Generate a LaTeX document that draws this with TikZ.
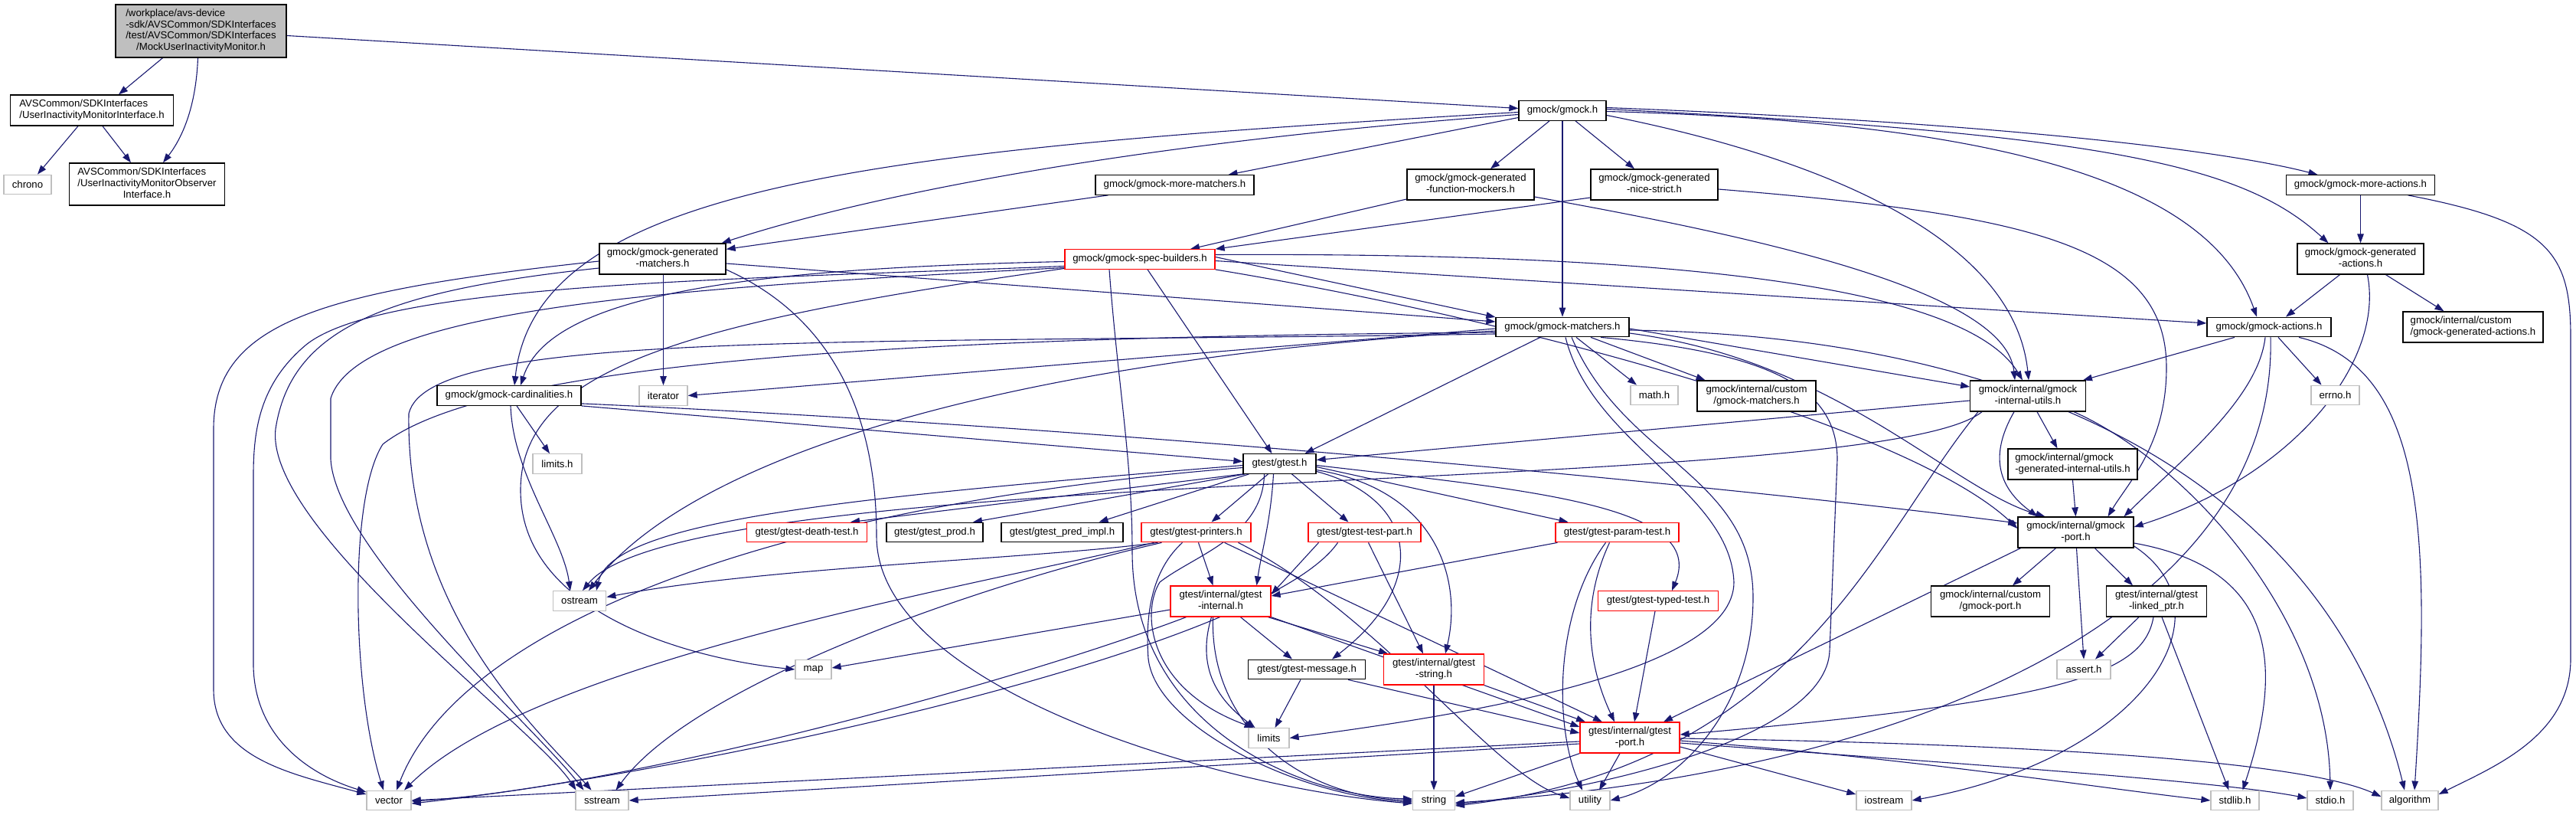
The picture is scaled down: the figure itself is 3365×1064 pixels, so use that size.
\documentclass[tikz,border=0pt]{standalone}
\usepackage{fontspec}
\setmainfont{Liberation Sans}
\usetikzlibrary{arrows.meta}
\definecolor{edgeblue}{HTML}{191970}
\definecolor{sysgray}{HTML}{BFBFBF}
\newcommand{\dxfont}{\fontsize{13.2}{14.7}\selectfont}
\newcommand{\ml}[1]{\begin{tabular}{@{}l@{}}#1\end{tabular}}
\newcommand{\lc}[1]{\multicolumn{1}{@{}c@{}}{#1}}
\pgfdeclarelayer{bg}
\pgfsetlayers{bg,main}

\tikzset{
  file/.style={draw=black, fill=white, line width=1.3pt, rectangle, inner sep=0pt, font=\dxfont, text=black},
  sysfile/.style={file, draw=sysgray},
  redfile/.style={file, draw=red},
  one/.style={minimum height=25.5pt},
  two/.style={minimum height=40pt},
  dep/.style={draw=edgeblue, line width=1.1pt, -{Triangle[length=12pt,width=8.5pt]}},
}

\begin{document}
\begin{tikzpicture}[x=1pt, y=-1pt]
    \useasboundingbox (0,0) rectangle (3365,1064);

    \node[file, fill=sysgray, minimum width=223pt, minimum height=69pt] (main) at (262.5,40.5) {\ml{/workplace/avs-device\\-sdk/AVSCommon/SDKInterfaces\\/test/AVSCommon/SDKInterfaces\\\lc{/MockUserInactivityMonitor.h}}};
    \node[file, two, minimum width=212.5pt] (ifc) at (120,144) {\ml{AVSCommon/SDKInterfaces\\\lc{/UserInactivityMonitorInterface.h}}};
    \node[sysfile, one, minimum width=62pt] (chrono) at (36,241) {chrono};
    \node[file, minimum height=55pt, minimum width=202.5pt] (obs) at (192,240.5) {\ml{AVSCommon/SDKInterfaces\\/UserInactivityMonitorObserver\\\lc{Interface.h}}};
    \node[file, one, minimum width=114pt] (gmock) at (2041,144.5) {gmock/gmock.h};
    \node[file, one, minimum width=207pt] (morematch) at (1534.5,241.5) {gmock/gmock-more-matchers.h};
    \node[file, two, minimum width=166pt] (fmock) at (1921,241) {\ml{gmock/gmock-generated\\\lc{-function-mockers.h}}};
    \node[file, two, minimum width=166pt] (nice) at (2161,241) {\ml{gmock/gmock-generated\\\lc{-nice-strict.h}}};
    \node[file, one, minimum width=194pt] (moreact) at (3083.5,241.5) {gmock/gmock-more-actions.h};
    \node[file, two, minimum width=165pt] (genmatch) at (865.5,338) {\ml{gmock/gmock-generated\\\lc{-matchers.h}}};
    \node[redfile, one, minimum width=196pt] (spec) at (1489,338.5) {gmock/gmock-spec-builders.h};
    \node[file, two, minimum width=165pt] (genact) at (3083.5,338) {\ml{gmock/gmock-generated\\\lc{-actions.h}}};
    \node[file, one, minimum width=174pt] (gmatch) at (2041,427) {gmock/gmock-matchers.h};
    \node[file, one, minimum width=162pt] (actions) at (2964,427) {gmock/gmock-actions.h};
    \node[file, two, minimum width=183pt] (cgenact) at (3230.5,427) {\ml{gmock/internal/custom\\\lc{/gmock-generated-actions.h}}};
    \node[file, one, minimum width=188pt] (card) at (665,516.5) {gmock/gmock-cardinalities.h};
    \node[sysfile, one, minimum width=63pt] (iterator) at (866.5,516.5) {iterator};
    \node[sysfile, one, minimum width=62pt] (math) at (2161,516) {math.h};
    \node[file, two, minimum width=155pt] (cmatch) at (2294.5,517) {\ml{gmock/internal/custom\\\lc{/gmock-matchers.h}}};
    \node[file, two, minimum width=150.5pt] (iutils) at (2649,517) {\ml{gmock/internal/gmock\\\lc{-internal-utils.h}}};
    \node[sysfile, one, minimum width=63pt] (errno) at (3050.5,516) {errno.h};
    \node[sysfile, one, minimum width=64pt] (limitsh) at (728,605.5) {limits.h};
    \node[file, one, minimum width=95pt] (gtest) at (1671.5,605.5) {gtest/gtest.h};
    \node[file, two, minimum width=169pt] (giutils) at (2707.5,606) {\ml{gmock/internal/gmock\\\lc{-generated-internal-utils.h}}};
    \node[redfile, one, minimum width=157.5pt] (death) at (1054,695) {gtest/gtest-death-test.h};
    \node[file, one, minimum width=126pt] (prod) at (1221,695) {gtest/gtest\_prod.h};
    \node[file, one, minimum width=159pt] (pred) at (1387.5,695) {gtest/gtest\_pred\_impl.h};
    \node[redfile, one, minimum width=143pt] (printers) at (1562.5,695) {gtest/gtest-printers.h};
    \node[redfile, one, minimum width=147pt] (testpart) at (1782.5,695) {gtest/gtest-test-part.h};
    \node[redfile, one, minimum width=161pt] (param) at (2112.5,695) {gtest/gtest-param-test.h};
    \node[file, two, minimum width=151pt] (gport) at (2711.5,695) {\ml{gmock/internal/gmock\\\lc{-port.h}}};
    \node[sysfile, one, minimum width=69.5pt] (ostream) at (757,784.5) {ostream};
    \node[redfile, two, minimum width=131pt] (internal) at (1594.5,785) {\ml{gtest/internal/gtest\\\lc{-internal.h}}};
    \node[redfile, one, minimum width=157.5pt] (typed) at (2166,784.5) {gtest/gtest-typed-test.h};
    \node[file, two, minimum width=154.5pt] (cport) at (2600,785) {\ml{gmock/internal/custom\\\lc{/gmock-port.h}}};
    \node[file, two, minimum width=130.5pt] (linked) at (2817,785) {\ml{gtest/internal/gtest\\\lc{-linked\_ptr.h}}};
    \node[sysfile, one, minimum width=47pt] (map) at (1062.5,874) {map};
    \node[file, one, minimum width=152.5pt] (message) at (1707,874) {gtest/gtest-message.h};
    \node[redfile, two, minimum width=130.5pt] (gstring) at (1873,874) {\ml{gtest/internal/gtest\\\lc{-string.h}}};
    \node[sysfile, one, minimum width=70pt] (assert) at (2722,874) {assert.h};
    \node[sysfile, one, minimum width=53pt] (limits) at (1657.5,963.5) {limits};
    \node[redfile, two, minimum width=130pt] (gtport) at (2129,963) {\ml{gtest/internal/gtest\\\lc{-port.h}}};
    \node[sysfile, one, minimum width=58pt] (vector) at (508,1045) {vector};
    \node[sysfile, one, minimum width=69pt] (sstream) at (786.5,1045) {sstream};
    \node[sysfile, one, minimum width=54.6pt] (string) at (1873,1045) {string};
    \node[sysfile, one, minimum width=52pt] (utility) at (2077,1045) {utility};
    \node[sysfile, one, minimum width=72pt] (iostream) at (2461,1045) {iostream};
    \node[sysfile, one, minimum width=63pt] (stdlib) at (2919.5,1045) {stdlib.h};
    \node[sysfile, one, minimum width=60pt] (stdio) at (3044,1045) {stdio.h};
    \node[sysfile, one, minimum width=74pt] (algorithm) at (3148,1045) {algorithm};

    \begin{pgfonlayer}{bg}
    % top of the graph
    \draw[dep] ([xshift=-50pt]main.south) -- ([xshift=35pt]ifc.north);
    \draw[dep] ([xshift=-4pt]main.south) .. controls (256,140) and (238,180) .. ([xshift=21pt]obs.north);
    \draw[dep] ([yshift=-6pt]main.east) -- ([yshift=3pt]gmock.west);
    \draw[dep] ([xshift=-18pt]ifc.south) -- ([xshift=13pt]chrono.north);
    \draw[dep] ([xshift=14pt]ifc.south) -- ([xshift=-21pt]obs.north);

    \draw[dep] ([yshift=-2pt]gmock.west) .. controls (1150,195) and (700,240) .. ([xshift=7pt]card.north);
    \draw[dep] ([yshift=-5pt]gmock.west) .. controls (1500,185) and (1150,250) .. ([xshift=-6pt]genmatch.north east);
    \draw[dep] ([yshift=-9pt]gmock.west) -- ([xshift=70pt]morematch.north);
    \draw[dep] ([xshift=-17pt]gmock.south) -- ([xshift=26pt]fmock.north);
    \draw[dep] ([xshift=17pt]gmock.south) -- ([xshift=-26pt]nice.north);
    \draw[dep] (gmock.south) -- (gmatch.north);
    \draw[dep] ([yshift=-6pt]gmock.east) .. controls (2350,200) and (2630,300) .. ([xshift=1pt]iutils.north);
    \draw[dep] ([yshift=4pt]gmock.east) .. controls (2600,160) and (2900,195) .. ([xshift=-56pt]moreact.north);
    \draw[dep] ([yshift=2pt]gmock.east) .. controls (2750,175) and (2930,215) .. ([xshift=-42pt]genact.north);
    \draw[dep] ([yshift=-1pt]gmock.east) .. controls (2650,160) and (2890,250) .. ([xshift=-16pt]actions.north);

    \draw[dep] ([xshift=-87pt]morematch.south) -- ([yshift=-8pt]genmatch.north east);
    \draw[dep] ([yshift=-19pt]fmock.west) -- ([xshift=66pt]spec.north);
    \draw[dep] ([yshift=-16pt]fmock.east) .. controls (2300,310) and (2620,380) .. ([xshift=-17pt]iutils.north);
    \draw[dep] ([yshift=-17pt]nice.west) -- (spec.north east);
    \draw[dep] ([yshift=-6pt]nice.east) .. controls (2650,280) and (2830,320) .. (2830,480) .. controls (2830,580) and (2780,630) .. ([xshift=42pt]gport.north);
    \draw[dep] (moreact.south) -- (genact.north);
    \draw[dep] ([xshift=62pt]moreact.south) .. controls (3330,290) and (3358,330) .. (3358,440) -- (3358,860) .. controls (3358,960) and (3260,1000) .. ([yshift=8pt]algorithm.east);

    \draw[dep] ([xshift=1pt]genmatch.south) -- (iterator.north);
    \draw[dep] ([yshift=-6pt]genmatch.east) -- ([yshift=7pt]gmatch.west);
    \draw[dep] ([yshift=-3pt]genmatch.west) .. controls (420,380) and (279,420) .. (279,560) -- (279,900) .. controls (279,990) and (380,1010) .. ([yshift=8pt]vector.west);
    \draw[dep] ([yshift=-12pt]genmatch.west) .. controls (500,380) and (380,430) .. (360,560) .. controls (345,690) and (700,950) .. ([xshift=-34pt]sstream.north);
    \draw[dep] ([yshift=-14pt]genmatch.east) .. controls (1100,420) and (1145,560) .. (1145,700) .. controls (1145,900) and (1600,1030) .. ([yshift=-4pt]string.west);

    % spec builders
    \draw[dep] ([yshift=-3pt]spec.west) .. controls (1000,350) and (720,380) .. ([xshift=15pt]card.north);
    \draw[dep] ([yshift=3pt]spec.east) -- ([yshift=13pt]gmatch.west);
    \draw[dep] ([yshift=-2pt]spec.east) -- ([yshift=5pt]actions.west);
    \draw[dep] ([yshift=6pt]spec.east) .. controls (2100,330) and (2560,360) .. ([xshift=-7pt]iutils.north);
    \draw[dep] (spec.south east) .. controls (2000,420) and (2500,560) .. ([yshift=5pt]gport.west);
    \draw[dep] ([xshift=10pt]spec.south) -- ([xshift=-10pt]gtest.north);
    \draw[dep] ([yshift=-12pt]spec.west) .. controls (900,420) and (680,480) .. (680,640) .. controls (680,800) and (900,860) .. (map.west);
    \draw[dep] ([yshift=-9pt]spec.west) .. controls (950,365) and (500,370) .. (400,450) .. controls (340,500) and (331,560) .. (331,620) -- (331,870) .. controls (333,960) and (400,1010) .. ([yshift=11pt]vector.west);
    \draw[dep] ([yshift=-11pt]spec.west) .. controls (900,375) and (470,400) .. (432,520) -- (432,600) .. controls (440,720) and (700,950) .. ([xshift=-24pt]sstream.north);
    \draw[dep] ([xshift=-40pt]spec.south) .. controls (1460,500) and (1479,600) .. (1479,720) .. controls (1479,950) and (1700,1040) .. ([yshift=2pt]string.west);

    \draw[dep] ([xshift=10pt]card.south) -- ([xshift=-10pt]limitsh.north);
    \draw[dep] ([xshift=2pt]card.south) .. controls (670,620) and (735,700) .. ([xshift=-12pt]ostream.north);
    \draw[dep] (card.south east) -- ([yshift=3pt]gtest.west);
    \draw[dep] ([yshift=3pt]card.south east) .. controls (1500,560) and (2300,640) .. ([yshift=12pt]gport.west);

    % gmock-matchers
    \draw[dep] ([xshift=18pt]gmatch.south) -- ([xshift=-23pt]math.north);
    \draw[dep] ([xshift=37pt]gmatch.south) -- ([xshift=-67pt]cmatch.north);
    \draw[dep] ([xshift=-29pt]gmatch.south) -- ([xshift=33pt]gtest.north);
    \draw[dep] ([yshift=-2pt]gmatch.west) -- (iterator.east);
    \draw[dep] ([yshift=-5pt]gmatch.west) .. controls (1300,470) and (900,600) .. ([xshift=12pt]ostream.north);
    \draw[dep] ([yshift=-7pt]gmatch.west) .. controls (1200,440) and (640,470) .. (500,580) .. controls (455,650) and (460,900) .. ([xshift=-7pt]vector.north);
    \draw[dep] ([yshift=-9pt]gmatch.west) .. controls (1100,450) and (560,430) .. (534,540) .. controls (530,800) and (700,950) .. ([xshift=-14pt]sstream.north);
    \draw[dep] ([xshift=50pt]gmatch.south) .. controls (2300,460) and (2400,500) .. (2400,600) -- (2390,850) .. controls (2385,960) and (2100,1030) .. ([yshift=-5pt]string.east);
    \draw[dep] ([xshift=12pt]gmatch.south) .. controls (2120,600) and (2290,620) .. (2290,780) .. controls (2290,920) and (2200,1020) .. (utility.east);
    \draw[dep] ([xshift=4pt]gmatch.south) .. controls (2080,580) and (2260,640) .. (2265,760) .. controls (2265,880) and (1900,935) .. (limits.east);
    \draw[dep] ([yshift=-4pt]gmatch.east) .. controls (2750,440) and (3060,700) .. ([xshift=-7pt]algorithm.north);
    \draw[dep] ([yshift=-8pt]gmatch.east) .. controls (2400,470) and (2550,640) .. ([xshift=-40pt]gport.north);
    \draw[dep] ([yshift=-2pt]gmatch.east) -- ([yshift=12pt]iutils.west);

    \draw[dep] ([xshift=-45pt]actions.south) -- ([xshift=72pt]iutils.north);
    \draw[dep] ([xshift=12pt]actions.south) -- ([xshift=-18pt]errno.north);
    \draw[dep] ([xshift=-5pt]actions.south) .. controls (2950,520) and (2850,600) .. ([xshift=63pt]gport.north);
    \draw[dep] ([xshift=2pt]actions.south) .. controls (2975,800) and (2500,1010) .. ([yshift=-3pt]string.east);
    \draw[dep] ([xshift=39pt]actions.south) .. controls (3170,480) and (3175,700) .. ([xshift=6pt]algorithm.north);
    \draw[dep] ([xshift=-27pt]genact.south) -- ([xshift=22pt]actions.north);
    \draw[dep] ([xshift=9pt]genact.south) .. controls (3115,470) and (3000,620) .. ([yshift=7pt]gport.east);
    \draw[dep] ([xshift=33pt]genact.south) -- ([xshift=-38pt]cgenact.north);

    \draw[dep] ([xshift=12pt]iutils.south) -- ([xshift=-20pt]giutils.north);
    \draw[dep] ([xshift=-18pt]iutils.south) .. controls (2595,600) and (2615,640) .. ([xshift=-50pt]gport.north);
    \draw[dep] ([yshift=-6pt]iutils.west) -- ([yshift=5pt]gtest.east);
    \draw[dep] ([xshift=-60pt]iutils.south) .. controls (2450,650) and (900,600) .. ([xshift=4pt]ostream.north);
    \draw[dep] ([xshift=-65pt]iutils.south) .. controls (2450,700) and (2350,1000) .. ([yshift=-7pt]string.east);
    \draw[dep] ([xshift=60pt]iutils.south) .. controls (2850,600) and (3040,800) .. (stdio.north);
    \draw[dep] (giutils.south) -- (gport.north);

    % gmock-port and linked_ptr
    \draw[dep] ([xshift=-26pt]gport.south) -- ([xshift=29pt]cport.north);
    \draw[dep] ([xshift=1pt]gport.south) -- (assert.north);
    \draw[dep] ([xshift=25pt]gport.south) -- ([xshift=-31pt]linked.north);
    \draw[dep] ([yshift=-14pt]gport.east) .. controls (2960,740) and (2990,850) .. ([xshift=10pt]stdlib.north);
    \draw[dep] ([yshift=-18pt]gport.east) .. controls (2920,800) and (2800,990) .. (iostream.east);
    \draw[dep] ([xshift=-72pt]gport.south) -- ([xshift=44pt]gtport.north);
    \draw[dep] ([xshift=-23pt]linked.south) -- ([xshift=15pt]assert.north);
    \draw[dep] ([xshift=7pt]linked.south) -- ([xshift=-8pt]stdlib.north);
    \draw[dep] ([xshift=-4pt]linked.south) .. controls (2800,880) and (2700,915) .. ([yshift=4pt]gtport.east);

    % gtest.h
    \draw[dep] (gtest.south west) -- ([xshift=57pt]death.north);
    \draw[dep] ([xshift=-45pt]gtest.south) -- ([xshift=50pt]prod.north);
    \draw[dep] ([xshift=-40pt]gtest.south) -- ([xshift=48pt]pred.north);
    \draw[dep] ([xshift=-15pt]gtest.south) -- ([xshift=20pt]printers.north);
    \draw[dep] ([xshift=16pt]gtest.south) -- ([xshift=-21pt]testpart.north);
    \draw[dep] ([yshift=-4pt]gtest.east) -- ([xshift=-64pt]param.north);
    \draw[dep] ([yshift=-2pt]gtest.east) .. controls (2000,640) and (2230,660) .. ([xshift=18pt]typed.north);
    \draw[dep] ([xshift=-8pt]gtest.south) .. controls (1660,680) and (1648,720) .. ([xshift=47pt]internal.north);
    \draw[dep] ([yshift=-8pt]gtest.east) .. controls (1880,640) and (1910,760) .. ([xshift=15pt]gstring.north);
    \draw[dep] ([yshift=-10pt]gtest.east) .. controls (1850,650) and (1870,760) .. ([xshift=33pt]message.north);
    \draw[dep] ([xshift=-20pt]gtest.south) .. controls (1650,700) and (1560,725) .. (1515,760) .. controls (1490,800) and (1500,900) .. ([xshift=-20pt]limits.north);
    \draw[dep] ([yshift=-2pt]gtest.west) .. controls (1100,650) and (800,680) .. ([xshift=22pt]ostream.north);
    \draw[dep] ([yshift=-5pt]gtest.west) .. controls (1000,660) and (600,820) .. ([xshift=10pt]vector.north);

    \draw[dep] ([xshift=3pt]printers.south) -- ([xshift=-10pt]internal.north);
    \draw[dep] ([xshift=-50pt]printers.south) .. controls (1350,730) and (1000,740) .. ([yshift=5pt]ostream.east);
    \draw[dep] ([xshift=37pt]printers.south) -- ([xshift=-36pt]gtport.north);
    \draw[dep] ([xshift=-55pt]printers.south) .. controls (1300,760) and (700,860) .. ([xshift=20pt]vector.north);
    \draw[dep] ([xshift=-45pt]printers.south) .. controls (1250,770) and (900,900) .. ([xshift=18pt]sstream.north);
    \draw[dep] ([xshift=-18pt]printers.south) .. controls (1510,740) and (1495,790) .. (1500,860) .. controls (1510,950) and (1700,1040) .. ([yshift=-2pt]string.west);
    \draw[dep] ([xshift=55pt]printers.south) .. controls (1800,800) and (1950,1010) .. ([yshift=3pt]utility.west);
    \draw[dep] ([xshift=-60pt]testpart.south) -- ([yshift=9pt]internal.east);
    \draw[dep] ([xshift=5pt]testpart.south) -- ([xshift=-14pt]gstring.north);
    \draw[dep] ([xshift=-35pt]testpart.south) .. controls (1650,850) and (900,1010) .. ([yshift=-4pt]vector.east);
    \draw[dep] ([xshift=-78pt]param.south) -- ([yshift=7pt]internal.east);
    \draw[dep] ([xshift=-10pt]param.south) .. controls (2060,800) and (2080,880) .. ([xshift=-20pt]gtport.north);
    \draw[dep] ([xshift=-15pt]param.south) .. controls (2030,800) and (2030,950) .. ([xshift=-10pt]utility.north);
    \draw[dep] ([xshift=-4pt]typed.south) -- ([xshift=6pt]gtport.north);

    % gtest internals
    \draw[dep] ([yshift=-11pt]internal.west) -- ([yshift=2pt]map.east);
    \draw[dep] ([xshift=-12pt]internal.south) .. controls (1560,880) and (1600,920) .. ([xshift=-18pt]limits.north);
    \draw[dep] ([xshift=26pt]internal.south) -- ([xshift=-19pt]message.north);
    \draw[dep] ([xshift=62pt]internal.south) -- ([xshift=-60pt]gstring.north);
    \draw[dep] (internal.south east) -- ([yshift=14pt]gtport.west);
    \draw[dep] ([xshift=-10pt]internal.south) .. controls (1580,950) and (1700,1040) .. (string.west);
    \draw[dep] ([xshift=-45pt]internal.south) .. controls (1300,900) and (800,1030) .. ([yshift=-1pt]vector.east);
    \draw[dep] ([xshift=-8pt]message.south) -- ([xshift=8pt]limits.north);
    \draw[dep] ([xshift=54pt]message.south) -- ([yshift=6pt]gtport.west);
    \draw[dep] (gstring.south) -- (string.north);
    \draw[dep] (gstring.south east) -- ([xshift=-58pt]gtport.north);

    \draw[dep] (gtport.south west) -- ([yshift=5pt]string.east);
    \draw[dep] ([xshift=-13pt]gtport.south) -- ([xshift=12pt]utility.north);
    \draw[dep] ([yshift=-12pt]gtport.east) -- ([yshift=8pt]iostream.west);
    \draw[dep] ([yshift=-4pt]gtport.east) .. controls (2500,990) and (2750,1030) .. (stdlib.west);
    \draw[dep] ([yshift=-7pt]gtport.east) .. controls (2600,1000) and (2900,1020) .. ([yshift=3pt]stdio.west);
    \draw[dep] ([yshift=-1pt]gtport.east) .. controls (2600,970) and (3000,990) .. ([yshift=5pt]algorithm.west);
    \draw[dep] ([yshift=-5pt]gtport.west) -- (vector.east);
    \draw[dep] ([yshift=-8pt]gtport.west) -- (sstream.east);
    \end{pgfonlayer}
\end{tikzpicture}
\end{document}
